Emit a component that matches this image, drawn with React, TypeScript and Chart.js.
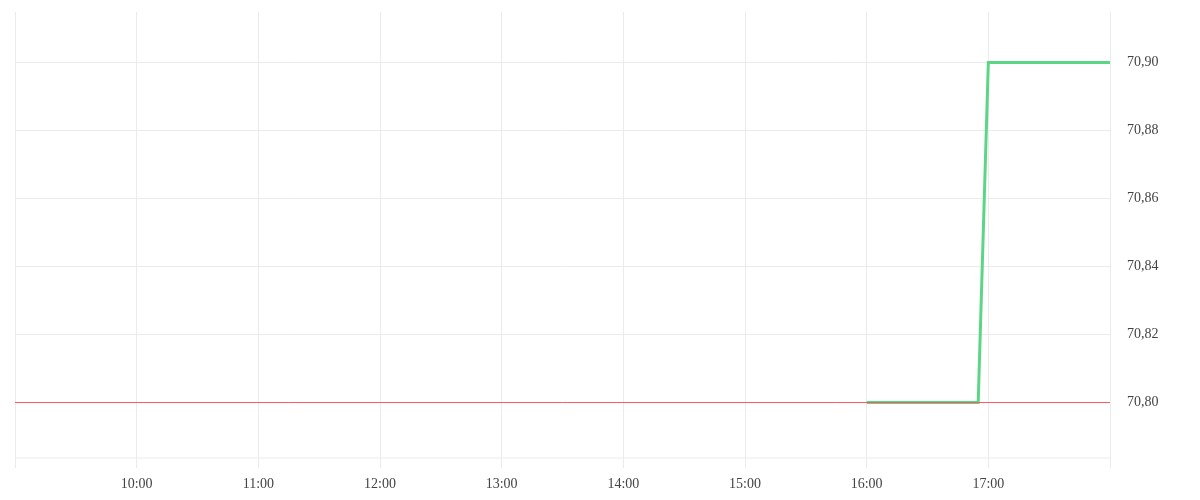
import React, { useEffect, useRef } from "react";
import { Chart, registerables } from "chart.js";

Chart.register(...registerables);

// minutes since midnight
const priceTimes = [960, 1015, 1020, 1080];
const priceValues = [70.8, 70.8, 70.9, 70.9];
const refTimes = [540, 1080];
const refValues = [70.8, 70.8];
const yTicks = [70.8, 70.82, 70.84, 70.86, 70.88, 70.9];
const xTicks = [540, 600, 660, 720, 780, 840, 900, 960, 1020, 1080];

const fmtTime = (m: number) => {
  const h = Math.floor(m / 60);
  const mm = m % 60;
  return `${String(h).padStart(2, "0")}:${String(mm).padStart(2, "0")}`;
};

export default function App() {
  const ref = useRef<HTMLCanvasElement | null>(null);
  useEffect(() => {
    if (!ref.current) return;
    const font = { family: "'Liberation Serif', serif", size: 14 };
    const chart = new Chart(ref.current, {
      type: "line",
      data: {
        datasets: [
          {
            data: refTimes.map((t, i) => ({ x: t, y: refValues[i] })),
            borderColor: "rgb(255,90,100)",
            borderWidth: 1,
            pointRadius: 0,
            order: 0,
          },
          {
            data: priceTimes.map((t, i) => ({ x: t, y: priceValues[i] })),
            borderColor: "rgb(92,214,134)",
            borderWidth: 3,
            pointRadius: 0,
            order: 1,
          },
        ],
      },
      options: {
        animation: false,
        responsive: true,
        maintainAspectRatio: false,
        layout: { padding: { left: 7, top: 4, right: 0, bottom: 0 } },
        plugins: { legend: { display: false }, tooltip: { enabled: false } },
        scales: {
          x: {
            type: "linear",
            min: 540,
            max: 1080,
            afterBuildTicks: (axis: any) => {
              axis.ticks = xTicks.map((v) => ({ value: v }));
            },
            afterFit: (axis: any) => {
              axis.height = 34;
              axis.paddingLeft = 0;
              axis.paddingRight = 0;
            },
            grid: { color: "#ebebeb", tickLength: 10, drawTicks: true },
            border: { display: false },
            ticks: {
              padding: 8,
              color: "#444",
              font,
              maxRotation: 0,
              autoSkip: false,
              callback: (v: any) => (v === 540 || v === 1080 ? "" : fmtTime(Number(v))),
            },
          },
          y: {
            type: "linear",
            position: "right",
            min: 70.783677,
            max: 70.914853,
            afterBuildTicks: (axis: any) => {
              axis.ticks = yTicks.map((v) => ({ value: v }));
            },
            afterFit: (axis: any) => {
              axis.width = 82;
              axis.paddingTop = 0;
              axis.paddingBottom = 0;
            },
            grid: { color: "#ebebeb", drawTicks: false },
            border: { display: false },
            ticks: {
              padding: 17,
              color: "#444",
              font,
              callback: (v: any) => Number(v).toFixed(2).replace(".", ","),
            },
          },
        },
      },
      plugins: [
        {
          id: "bottomLine",
          beforeDatasetsDraw: (c: any) => {
            const { ctx, chartArea } = c;
            ctx.save();
            ctx.strokeStyle = "#ebebeb";
            ctx.lineWidth = 1;
            ctx.beginPath();
            ctx.moveTo(chartArea.left, chartArea.bottom);
            ctx.lineTo(chartArea.right, chartArea.bottom);
            ctx.stroke();
            ctx.restore();
          },
        },
      ],
    } as any);
    return () => chart.destroy();
  }, []);
  return (
    <div style={{ width: "100%", height: 484 }}>
      <canvas ref={ref} />
    </div>
  );
}
